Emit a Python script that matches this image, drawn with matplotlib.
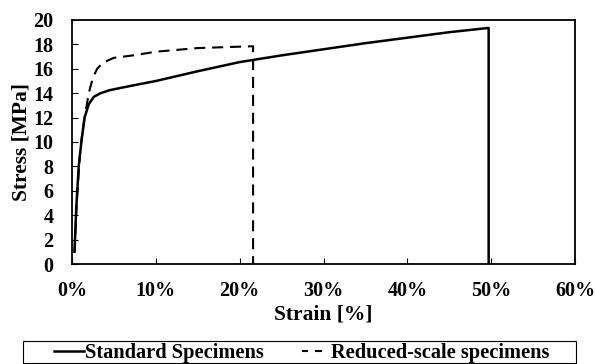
import matplotlib
matplotlib.use("Agg")
import matplotlib.pyplot as plt
from matplotlib.lines import Line2D
from matplotlib.patches import Rectangle
from matplotlib.ticker import PercentFormatter, MultipleLocator

# strain in %, stress in MPa
std_strain = [0.3, 0.5, 0.8, 1.15, 1.5, 2.0, 2.6, 3.4, 4.5, 7.0, 10.0, 15.0, 20.0, 25.0, 30.0, 35.0, 40.0, 45.0, 49.7, 49.7]
std_stress = [1.0, 4.5, 8.0, 10.2, 12.0, 13.1, 13.7, 14.0, 14.25, 14.6, 15.0, 15.8, 16.55, 17.1, 17.6, 18.1, 18.55, 19.0, 19.35, 0.0]

red_strain = [0.3, 0.6, 1.0, 1.5, 2.0, 2.5, 3.0, 3.7, 5.0, 7.3, 10.0, 15.0, 21.6, 21.6]
red_stress = [1.0, 5.5, 9.5, 12.0, 14.0, 15.3, 16.0, 16.5, 16.9, 17.1, 17.4, 17.7, 17.85, 0.0]

labels = ["Standard Specimens", "Reduced-scale specimens"]

FONT = "Liberation Serif"
PX = 1 / (100 / 72 * 1.5)  # pixel -> dash units for a 1.5 pt line at 100 dpi

fig = plt.figure(figsize=(5.95, 3.64), dpi=100)
ax = fig.add_axes([72 / 595, 1 - 264 / 364, (575 - 72) / 595, (264 - 20) / 364])

ax.plot(std_strain, std_stress, color="black", linewidth=1.8)
ax.plot(red_strain, red_stress, color="black", linewidth=1.5, linestyle=(0, (5.3, 3.3)))

ax.set_xlim(0, 60)
ax.set_ylim(0, 20)
ax.xaxis.set_major_locator(MultipleLocator(10))
ax.yaxis.set_major_locator(MultipleLocator(2))
ax.xaxis.set_major_formatter(PercentFormatter(decimals=0))

ax.tick_params(axis="both", direction="in", length=4, width=0.8, labelsize=14.5)
ax.tick_params(axis="x", pad=12)
ax.tick_params(axis="y", pad=13.5)
for lab in ax.get_xticklabels() + ax.get_yticklabels():
    lab.set_fontfamily(FONT)
    lab.set_fontweight("bold")

for spine in ax.spines.values():
    spine.set_linewidth(1.3)

ax.set_xlabel("Strain [%]", fontsize=15.5, fontweight="bold", fontfamily=FONT, labelpad=3)
ax.set_ylabel("Stress [MPa]", fontsize=15.5, fontweight="bold", fontfamily=FONT, labelpad=1)

# legend proxies: the dashed one shows just "- -" like the original
h_std = Line2D([], [], color="black", linewidth=1.8)
h_red = Line2D([], [], color="black", linewidth=1.5,
               linestyle=(30 * PX, (6 * PX, 7 * PX, 7 * PX, 12 * PX)))
leg = fig.legend([h_std, h_red], labels, loc="center",
                 bbox_to_anchor=(302 / 595, 1 - 353 / 364), ncol=2,
                 frameon=False, handlelength=1.47, handletextpad=0.05, columnspacing=1.76,
                 prop={"family": FONT, "weight": "bold", "size": 14.7})
fig.patches.append(Rectangle((23 / 595, 1 - 363 / 364), (576 - 23) / 595, 22 / 364,
                             transform=fig.transFigure, fill=False,
                             edgecolor="black", linewidth=0.8))

fig.savefig("out.png", dpi=100, facecolor="white")
